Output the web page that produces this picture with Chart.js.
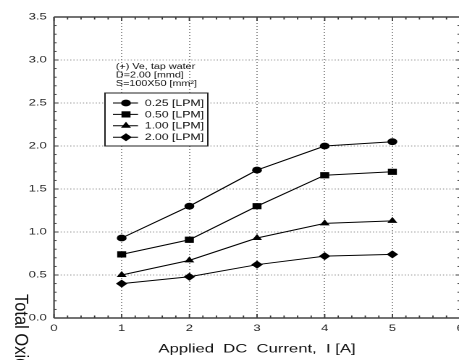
<!DOCTYPE html>
<html>
<head>
<meta charset="utf-8">
<script src="https://cdn.jsdelivr.net/npm/chart.js@4/dist/chart.umd.min.js"></script>
<style>
  body { margin: 0; background: #fff; }
  #clip { width: 459px; height: 360px; overflow: hidden; }
  /* the source figure is stretched sideways, so the whole chart is too */
  #wrap { width: 330px; height: 360px; transform: scaleX(1.448); transform-origin: 0 0; }
</style>
</head>
<body>
<div id="clip"><div id="wrap"><canvas id="c" width="330" height="360"></canvas></div></div>
<script>
const currents = [1, 2, 3, 4, 5];
const lpm025 = [0.93, 1.30, 1.72, 2.00, 2.05];
const lpm050 = [0.74, 0.91, 1.30, 1.66, 1.70];
const lpm100 = [0.50, 0.67, 0.93, 1.10, 1.13];
const lpm200 = [0.40, 0.48, 0.62, 0.72, 0.74];
const seriesLabels = ["0.25 [LPM]", "0.50 [LPM]", "1.00 [LPM]", "2.00 [LPM]"];
const xTickLabels = ["0", "1", "2", "3", "4", "5", "6"];
const yTickLabels = ["0.0", "0.5", "1.0", "1.5", "2.0", "2.5", "3.0", "3.5"];
const noteLines = ["(+) Ve, tap water", "D=2.00 [mmd]", "S=100X50 [mm²]"];
const xTitle = "Applied  DC  Current,  I [A]";
const yTitle = "Total Oxidant Concentration [mg/L]";

const FONT = "'Liberation Sans', Arial, sans-serif";
const markers = [
  { style: "circle", r: 3.4 },
  { style: "rect", r: 4.4 },
  { style: "triangle", r: 4 },
  { style: "rectRot", r: 4 },
];

function drawMarker(ctx, style, r, x, y) {
  ctx.beginPath();
  if (style === "circle") {
    ctx.arc(x, y, r, 0, Math.PI * 2);
  } else if (style === "rect") {
    const s = r * Math.SQRT1_2;
    ctx.rect(x - s, y - s, 2 * s, 2 * s);
  } else if (style === "triangle") {
    ctx.moveTo(x, y - r);
    ctx.lineTo(x + r * 0.866, y + r / 2);
    ctx.lineTo(x - r * 0.866, y + r / 2);
    ctx.closePath();
  } else {
    ctx.moveTo(x - r, y);
    ctx.lineTo(x, y - r);
    ctx.lineTo(x + r, y);
    ctx.lineTo(x, y + r);
    ctx.closePath();
  }
  ctx.fill();
}

const allSeries = [lpm025, lpm050, lpm100, lpm200];
const datasets = allSeries.map((vals, i) => ({
  label: seriesLabels[i],
  data: currents.map((c, j) => ({ x: c, y: vals[j] })),
  borderColor: "#000",
  backgroundColor: "#000",
  borderWidth: 1,
  pointStyle: markers[i].style,
  pointRadius: markers[i].r,
  pointBorderWidth: 0,
  tension: 0,
}));

// frame, inward ticks, notes, legend box and the y title
const extras = {
  id: "extras",
  afterDraw(chart) {
    const { ctx, chartArea: a, scales } = chart;
    const x = scales.x, y = scales.y;
    const seg = (x1, y1, x2, y2) => { ctx.beginPath(); ctx.moveTo(x1, y1); ctx.lineTo(x2, y2); ctx.stroke(); };
    ctx.save();
    ctx.strokeStyle = "#333";
    ctx.lineWidth = 0.9;
    for (let i = 0; i <= Math.round((x.max - x.min) / 0.2); i++) {
      const px = x.getPixelForValue(x.min + i * 0.2);
      const len = i % 5 === 0 ? 4 : 2.5;
      seg(px, a.bottom, px, a.bottom - len);
      seg(px, a.top, px, a.top + len);
    }
    for (let i = 0; i <= Math.round((y.max - y.min) / 0.1); i++) {
      const py = y.getPixelForValue(y.min + i * 0.1);
      const len = i % 5 === 0 ? 3 : 1.8;
      seg(a.left, py, a.left + len, py);
      seg(a.right, py, a.right - len, py);
    }
    ctx.strokeStyle = "#444";
    ctx.lineWidth = 1.6;
    seg(a.left, a.top, a.right, a.top);
    seg(a.left, a.bottom, a.right, a.bottom);
    ctx.lineWidth = 1.1;
    seg(a.left, a.top, a.left, a.bottom);
    seg(a.right, a.top, a.right, a.bottom);

    ctx.fillStyle = "#111";
    // notes above the legend
    ctx.font = "8px " + FONT;
    ctx.textBaseline = "alphabetic";
    noteLines.forEach((t, i) => {
      ctx.save();
      ctx.translate(80, 69 + i * 8.4);
      ctx.scale(0.93, 1);
      ctx.fillText(t, 0, 0);
      ctx.restore();
    });

    // legend box
    const bx = 72.5, by = 93, bw = 71, bh = 53;
    ctx.fillStyle = "#fff";
    ctx.fillRect(bx, by, bw, bh);
    ctx.strokeStyle = "#222";
    ctx.lineWidth = 1;
    ctx.strokeRect(bx, by, bw, bh);
    ctx.font = "8.8px " + FONT;
    ctx.textBaseline = "middle";
    chart.data.datasets.forEach((ds, i) => {
      const ry = 103 + i * 11.4;
      ctx.strokeStyle = "#000";
      seg(78, ry, 95.3, ry);
      ctx.fillStyle = "#000";
      drawMarker(ctx, ds.pointStyle, ds.pointRadius, 87, ry);
      ctx.save();
      ctx.translate(100, ry);
      ctx.scale(0.96, 1);
      ctx.fillStyle = "#111";
      ctx.fillText(ds.label, 0, 0.5);
      ctx.restore();
    });

    // y title, written top to bottom
    ctx.save();
    ctx.translate(10.5, 294);
    ctx.rotate(Math.PI / 2);
    ctx.scale(1, 0.76);
    ctx.font = "16.5px " + FONT;
    ctx.textBaseline = "alphabetic";
    ctx.fillStyle = "#111";
    ctx.fillText(yTitle, 0, 0);
    ctx.restore();
    ctx.restore();
  },
};

new Chart(document.getElementById("c"), {
  type: "line",
  data: { datasets },
  options: {
    responsive: false,
    devicePixelRatio: 2,
    animation: false,
    layout: { padding: { top: 17, right: 12.3, left: 0, bottom: 0 } },
    plugins: { legend: { display: false }, tooltip: { enabled: false } },
    scales: {
      x: {
        type: "linear",
        min: 0,
        max: 6,
        afterFit: (s) => { s.height = 42; },
        ticks: {
          stepSize: 1,
          padding: 5,
          color: "#222",
          font: { family: FONT, size: 9 },
          callback: (v) => xTickLabels[v],
        },
        grid: {
          drawTicks: false,
          color: (c) => (c.tick.value === 0 || c.tick.value === 6 ? "rgba(0,0,0,0)" : "#777"),
          lineWidth: 0.8,
        },
        border: { display: false, dash: [1, 2] },
        title: {
          display: true,
          text: xTitle,
          color: "#111",
          font: { family: FONT, size: 11.5 },
          padding: { top: 0, bottom: 4 },
        },
      },
      y: {
        min: 0,
        max: 3.5,
        afterFit: (s) => { s.width = 37.3; },
        ticks: {
          stepSize: 0.5,
          padding: 5,
          color: "#222",
          font: { family: FONT, size: 9 },
          callback: (v) => yTickLabels[Math.round(v / 0.5)],
        },
        grid: {
          drawTicks: false,
          color: (c) => (c.tick.value === 0 || c.tick.value === 3.5 ? "rgba(0,0,0,0)" : "#777"),
          lineWidth: 0.8,
        },
        border: { display: false, dash: [0.8, 1.4] },
      },
    },
  },
  plugins: [extras],
});
</script>
</body>
</html>
